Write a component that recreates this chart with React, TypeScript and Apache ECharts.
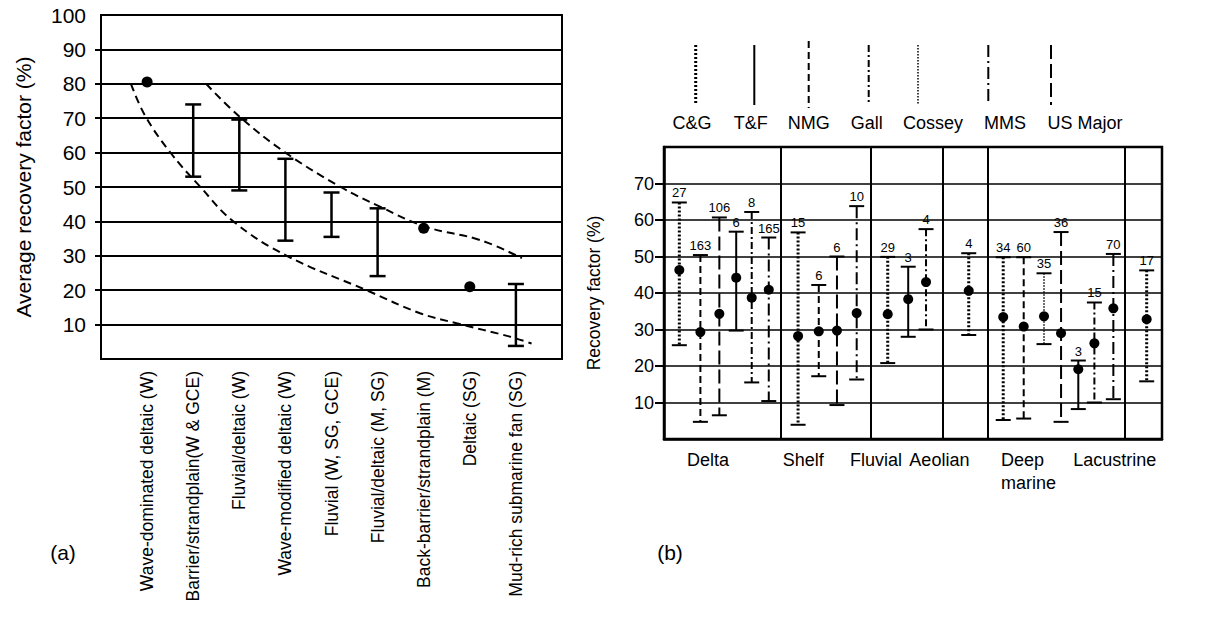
import React, { useEffect, useRef } from "react";
import * as echarts from "echarts";

// ---------- Panel (a) ----------
const envCategories = [
  "Wave-dominated deltaic (W)",
  "Barrier/strandplain(W & GCE)",
  "Fluvial/deltaic (W)",
  "Wave-modified deltaic (W)",
  "Fluvial (W, SG, GCE)",
  "Fluvial/deltaic (M, SG)",
  "Back-barrier/strandplain (M)",
  "Deltaic (SG)",
  "Mud-rich submarine fan (SG)",
];
const envPos = [1, 2, 3, 4, 5, 6, 7, 8, 9];
const envPoint = [80.5, null, null, null, null, null, 38, 21, null];
const envHigh = [null, 74, 69.6, 58.2, 48.4, 43.8, null, null, 21.8];
const envLow = [null, 53, 49, 34.4, 35.5, 24.1, null, null, 3.8];
const upperX = [2.28, 3.0, 4.0, 5.2, 6.05, 7.03, 8.22, 9.13];
const upperY = [80, 70.5, 60, 50, 44.3, 38.5, 34.6, 29.3];
const lowerX = [0.65, 0.95, 1.5, 2.15, 2.87, 4.03, 5.76, 6.92, 7.71, 8.87, 9.34];
const lowerY = [80, 70.9, 60.1, 50.1, 40, 30, 20, 13.3, 10.4, 6.5, 4.5];
const leftTickValues = [10, 20, 30, 40, 50, 60, 70, 80, 90];

// ---------- Panel (b) ----------
const rfSource = [
  "C&G", "NMG", "US Major", "T&F", "Gall", "MMS",
  "C&G", "NMG", "US Major", "MMS",
  "C&G", "T&F", "Gall",
  "C&G",
  "C&G", "NMG", "Cossey", "US Major", "T&F", "Gall", "MMS",
  "C&G",
];
const rfPos = [0.8, 1.9, 2.89, 3.77, 4.58, 5.47, 7.0, 8.08, 9.03, 10.06, 11.68, 12.75, 13.68, 15.91, 17.71, 18.78, 19.84, 20.73, 21.63, 22.47, 23.46, 25.2];
const rfMean = [46.3, 29.3, 34.3, 44.2, 38.7, 40.9, 28.2, 29.5, 29.7, 34.5, 34.2, 38.3, 43.0, 40.6, 33.4, 30.8, 33.6, 29.0, 19.1, 26.2, 35.8, 32.8];
const rfHigh = [64.8, 50.4, 60.7, 56.8, 62.2, 55.2, 56.6, 42.2, 50.0, 63.8, 49.9, 47.2, 57.5, 50.9, 49.8, 49.8, 45.4, 56.7, 21.5, 37.4, 50.7, 46.2];
const rfLow = [25.7, 4.7, 6.5, 29.7, 15.5, 10.4, 3.9, 17.2, 9.3, 16.3, 20.8, 28.0, 30.0, 28.5, 5.2, 5.6, 26.0, 4.7, 8.2, 10.0, 10.9, 15.8];
const rfCount = [27, 163, 106, 6, 8, 165, 15, 6, 6, 10, 29, 3, 4, 4, 34, 60, 35, 36, 3, 15, 70, 17];
const groupNames = ["Delta", "Shelf", "Fluvial", "Aeolian", "Deep\nmarine", "Lacustrine"];
const groupLabelPos = [1.2, 6.2, 9.71, 12.81, 17.59, 21.37];
const groupSeparators = [6.09, 10.81, 14.53, 16.92, 24.03];
const rightTickValues = [10, 20, 30, 40, 50, 60, 70];
const legendNames = ["C&G", "T&F", "NMG", "Gall", "Cossey", "MMS", "US Major"];

const FONT = "'Liberation Sans', Arial, sans-serif";

const lineStyles: Record<string, { w: number; dash: number[] | null }> = {
  "C&G": { w: 3, dash: [2, 2] },
  "T&F": { w: 2, dash: null },
  NMG: { w: 2, dash: [7, 4] },
  Gall: { w: 2, dash: [7, 3, 2, 3] },
  Cossey: { w: 1.5, dash: [1.5, 1.5] },
  MMS: { w: 2, dash: [12, 4, 2, 4] },
  "US Major": { w: 2, dash: [14, 5] },
};

// legend layout (pixels)
const legendLineX = [695.7, 754.3, 808.7, 868.7, 918, 988.3, 1051];
const legendTextX = [692, 750.7, 808.7, 866.7, 933, 1005, 1085];

export default function App() {
  const ref = useRef<HTMLDivElement>(null);
  useEffect(() => {
    if (!ref.current) return;
    const chart = echarts.init(ref.current, null, { renderer: "svg" });

    const leftBars = envPos
      .map((p, i) => (envHigh[i] != null ? [p, envLow[i], envHigh[i]] : null))
      .filter((d) => d !== null);
    const leftDots = envPos
      .map((p, i) => (envPoint[i] != null ? [p, envPoint[i]] : null))
      .filter((d) => d !== null);

    const legendGraphics: any[] = [];
    legendNames.forEach((n, i) => {
      const st = lineStyles[n];
      const isNMG = n === "NMG";
      legendGraphics.push({
        type: "line",
        shape: { x1: legendLineX[i], y1: isNMG ? 41 : 45, x2: legendLineX[i], y2: isNMG ? 108 : 105 },
        style: { stroke: "#000", lineWidth: st.w, lineDash: st.dash || undefined },
      });
      legendGraphics.push({
        type: "text",
        x: legendTextX[i],
        y: 123,
        style: { text: n, fill: "#000", font: `18px ${FONT}`, align: "center", verticalAlign: "middle" },
      });
    });

    const option: any = {
      animation: false,
      backgroundColor: "#fff",
      textStyle: { fontFamily: FONT },
      grid: [
        { left: 101, top: 15, width: 461, height: 344, show: true, borderColor: "#000", borderWidth: 2, containLabel: false },
        { left: 664, top: 147, width: 498, height: 292, show: true, borderColor: "#000", borderWidth: 2.5, containLabel: false },
      ],
      xAxis: [
        {
          gridIndex: 0,
          type: "value",
          min: 0,
          max: 10,
          interval: 1,
          axisLine: { show: true, lineStyle: { color: "#000", width: 2 } },
          axisTick: { show: false },
          splitLine: { show: false },
          axisLabel: {
            customValues: envPos,
            rotate: 90,
            margin: 12,
            color: "#000",
            fontSize: 17.5,
            fontFamily: FONT,
            formatter: (v: number) => envCategories[envPos.indexOf(v)] ?? "",
          },
        },
        {
          gridIndex: 1,
          type: "value",
          min: 0,
          max: 26,
          axisLine: { show: true, lineStyle: { color: "#000", width: 2.5 } },
          axisTick: { show: false },
          splitLine: { show: false },
          axisLabel: {
            customValues: groupLabelPos,
            align: "left",
            margin: 9,
            lineHeight: 23,
            color: "#000",
            fontSize: 18,
            fontFamily: FONT,
            formatter: (v: number) => groupNames[groupLabelPos.indexOf(v)] ?? "",
          },
        },
      ],
      yAxis: [
        {
          gridIndex: 0,
          type: "value",
          min: 0,
          max: 100,
          interval: 10,
          name: "Average recovery factor (%)",
          nameLocation: "middle",
          nameGap: 67,
          nameTextStyle: { color: "#000", fontSize: 21, fontFamily: FONT },
          axisLine: { show: true, lineStyle: { color: "#000", width: 2 } },
          axisTick: { show: true, customValues: leftTickValues, length: 6, lineStyle: { color: "#000", width: 2 } },
          splitLine: { show: true, lineStyle: { color: "#000", width: 2 } },
          axisLabel: {
            margin: 15,
            color: "#000",
            fontSize: 21,
            fontFamily: FONT,
            formatter: (v: number) => (v === 0 ? "" : String(v)),
          },
        },
        {
          gridIndex: 1,
          type: "value",
          min: 0,
          max: 80,
          interval: 10,
          name: "Recovery factor (%)",
          nameLocation: "middle",
          nameGap: 61,
          nameTextStyle: { color: "#000", fontSize: 17.5, fontFamily: FONT },
          axisLine: { show: true, lineStyle: { color: "#000", width: 2.5 } },
          axisTick: { show: true, customValues: rightTickValues, length: 9, lineStyle: { color: "#000", width: 2 } },
          splitLine: { show: true, lineStyle: { color: "#000", width: 1.5 } },
          axisLabel: {
            margin: 10,
            color: "#000",
            fontSize: 18,
            fontFamily: FONT,
            formatter: (v: number) => (v === 0 || v === 80 ? "" : String(v)),
          },
        },
      ],
      graphic: [
        ...legendGraphics,
        { type: "text", x: 63, y: 552, style: { text: "(a)", fill: "#000", font: `21px ${FONT}`, align: "center", verticalAlign: "middle" } },
        { type: "text", x: 670, y: 552, style: { text: "(b)", fill: "#000", font: `21px ${FONT}`, align: "center", verticalAlign: "middle" } },
      ],
      series: [
        {
          type: "line",
          xAxisIndex: 0,
          yAxisIndex: 0,
          data: upperX.map((x, i) => [x, upperY[i]]),
          smooth: 0.4,
          showSymbol: false,
          symbol: "none",
          lineStyle: { color: "#000", width: 2, type: [8, 5] },
          silent: true,
          z: 3,
        },
        {
          type: "line",
          xAxisIndex: 0,
          yAxisIndex: 0,
          data: lowerX.map((x, i) => [x, lowerY[i]]),
          smooth: 0.4,
          showSymbol: false,
          symbol: "none",
          lineStyle: { color: "#000", width: 2, type: [8, 5] },
          silent: true,
          z: 3,
        },
        {
          type: "custom",
          xAxisIndex: 0,
          yAxisIndex: 0,
          data: leftBars,
          z: 4,
          renderItem: (params: any, api: any) => {
            const x = api.value(0);
            const top = api.coord([x, api.value(2)]);
            const bot = api.coord([x, api.value(1)]);
            const hw = 8;
            const st = { stroke: "#000", lineWidth: 2.5 };
            return {
              type: "group",
              children: [
                { type: "line", shape: { x1: top[0], y1: top[1], x2: bot[0], y2: bot[1] }, style: st },
                { type: "line", shape: { x1: top[0] - hw, y1: top[1], x2: top[0] + hw, y2: top[1] }, style: st },
                { type: "line", shape: { x1: bot[0] - hw, y1: bot[1], x2: bot[0] + hw, y2: bot[1] }, style: st },
              ],
            };
          },
        },
        {
          type: "scatter",
          xAxisIndex: 0,
          yAxisIndex: 0,
          data: leftDots,
          symbol: "circle",
          symbolSize: 11,
          itemStyle: { color: "#000", opacity: 1 },
          z: 5,
        },
        {
          type: "line",
          xAxisIndex: 1,
          yAxisIndex: 1,
          data: [],
          symbol: "none",
          markLine: {
            silent: true,
            symbol: ["none", "none"],
            label: { show: false },
            lineStyle: { color: "#000", width: 2, type: "solid" },
            data: groupSeparators.map((v) => ({ xAxis: v })),
          },
        },
        {
          type: "custom",
          xAxisIndex: 1,
          yAxisIndex: 1,
          data: rfPos.map((p, i) => [p, rfLow[i], rfHigh[i], rfMean[i], rfCount[i]]),
          z: 5,
          renderItem: (params: any, api: any) => {
            const i = params.dataIndex;
            const x = api.value(0);
            const top = api.coord([x, api.value(2)]);
            const bot = api.coord([x, api.value(1)]);
            const mid = api.coord([x, api.value(3)]);
            const ls = lineStyles[rfSource[i]];
            const hw = 7.5;
            return {
              type: "group",
              children: [
                {
                  type: "line",
                  shape: { x1: top[0], y1: top[1], x2: bot[0], y2: bot[1] },
                  style: { stroke: "#000", lineWidth: ls.w, lineDash: ls.dash || undefined },
                },
                { type: "line", shape: { x1: top[0] - hw, y1: top[1], x2: top[0] + hw, y2: top[1] }, style: { stroke: "#000", lineWidth: 2 } },
                { type: "line", shape: { x1: bot[0] - hw, y1: bot[1], x2: bot[0] + hw, y2: bot[1] }, style: { stroke: "#000", lineWidth: 2 } },
                { type: "circle", shape: { cx: mid[0], cy: mid[1], r: 5 }, style: { fill: "#000" } },
                {
                  type: "text",
                  x: top[0],
                  y: top[1] - 3,
                  style: {
                    text: String(api.value(4)),
                    fill: "#000",
                    font: `13px ${FONT}`,
                    align: "center",
                    verticalAlign: "bottom",
                  },
                },
              ],
            };
          },
        },
      ],
    };
    chart.setOption(option);
    return () => chart.dispose();
  }, []);
  return (
    <div
      ref={ref}
      style={{ position: "fixed", left: 0, top: 0, width: 1215, height: 619, background: "#fff" }}
    />
  );
}
